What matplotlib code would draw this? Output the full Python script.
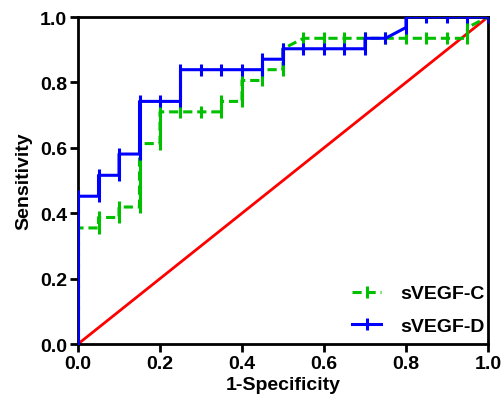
import matplotlib.pyplot as plt

# ---------------------------
# ROC points
# ---------------------------

# sVEGF-C (green, dashed)
fpr_c = [0.0, 0.0, 0.0, 0.0, 0.0, 0.0, 0.0, 0.0, 0.0, 0.0, 0.0, 0.0,
         0.05, 0.05, 0.10, 0.10, 0.15, 0.15, 0.15, 0.15, 0.15, 0.15, 0.15,
         0.20, 0.20, 0.20, 0.20, 0.25, 0.30, 0.35, 0.35, 0.40, 0.40, 0.40,
         0.45, 0.45, 0.50, 0.50, 0.50, 0.55, 0.60, 0.65, 0.70, 0.75, 0.80,
         0.85, 0.90, 0.95, 0.95, 1.0]
tpr_c = [0.0, 0.032, 0.065, 0.097, 0.129, 0.161, 0.194, 0.226, 0.258, 0.290, 0.323, 0.355,
         0.355, 0.387, 0.387, 0.419, 0.419, 0.452, 0.484, 0.516, 0.548, 0.581, 0.613,
         0.613, 0.645, 0.677, 0.710, 0.710, 0.710, 0.710, 0.742, 0.742, 0.774, 0.806,
         0.806, 0.839, 0.839, 0.871, 0.903, 0.935, 0.935, 0.935, 0.935, 0.935, 0.935,
         0.935, 0.935, 0.935, 0.968, 1.0]

# sVEGF-D (blue, solid)
fpr_d = [0.0, 0.0, 0.0, 0.0, 0.0, 0.0, 0.0, 0.0, 0.0, 0.0, 0.0, 0.0, 0.0, 0.0, 0.0,
         0.05, 0.05, 0.05, 0.10, 0.10, 0.10, 0.15, 0.15, 0.15, 0.15, 0.15, 0.15,
         0.20, 0.25, 0.25, 0.25, 0.25, 0.30, 0.35, 0.40, 0.45, 0.45, 0.50, 0.50,
         0.55, 0.60, 0.65, 0.70, 0.70, 0.75, 0.80, 0.80, 0.85, 0.90, 0.95, 1.0]
tpr_d = [0.0, 0.032, 0.065, 0.097, 0.129, 0.161, 0.194, 0.226, 0.258, 0.290, 0.323, 0.355,
         0.387, 0.419, 0.452,
         0.452, 0.484, 0.516, 0.516, 0.548, 0.581, 0.581, 0.613, 0.645, 0.677, 0.710, 0.742,
         0.742, 0.742, 0.774, 0.806, 0.839, 0.839, 0.839, 0.839, 0.839, 0.871, 0.871, 0.903,
         0.903, 0.903, 0.903, 0.903, 0.935, 0.935, 0.968, 1.0, 1.0, 1.0, 1.0, 1.0]

ref_line = [0.0, 1.0]
ticks = [0.0, 0.2, 0.4, 0.6, 0.8, 1.0]

plt.rcParams['font.family'] = ['Liberation Sans', 'DejaVu Sans']
plt.rcParams['font.weight'] = 'bold'

fig = plt.figure(figsize=(5.01, 4.10), dpi=100)
ax = fig.add_axes([0.1557, 0.1585, 0.8183, 0.7975])

ax.plot(ref_line, ref_line, color='#ff0000', lw=2, zorder=1)
ax.plot(fpr_c, tpr_c, color='#00c000', lw=2.2, ls=(0, (3, 1.6)), marker='|',
        ms=8, mew=2.2, label='sVEGF-C', zorder=2)
ax.plot(fpr_d, tpr_d, color='#0000ff', lw=2.2, marker='|', ms=8, mew=2.2,
        label='sVEGF-D', zorder=3)

ax.set_xlim(0, 1)
ax.set_ylim(0, 1)
ax.set_xticks(ticks)
ax.set_yticks(ticks)
ax.set_xticklabels([f"{t:.1f}" for t in ticks])
ax.set_yticklabels([f"{t:.1f}" for t in ticks])
ax.tick_params(direction='out', length=6, width=2, labelsize=14, pad=2)
for s in ax.spines.values():
    s.set_linewidth(2)

ax.set_xlabel("1-Specificity", fontsize=14, fontweight='bold', labelpad=3)
ax.set_ylabel("Sensitivity", fontsize=14, fontweight='bold', labelpad=5)

leg = ax.legend(loc='lower right', bbox_to_anchor=(1.0, 0.02), frameon=False,
                fontsize=14, handlelength=1.5, handletextpad=1.0,
                borderaxespad=0.0, borderpad=0.15, labelspacing=0.75)
for t in leg.get_texts():
    t.set_fontweight('bold')

fig.savefig("out.png", dpi=100)
